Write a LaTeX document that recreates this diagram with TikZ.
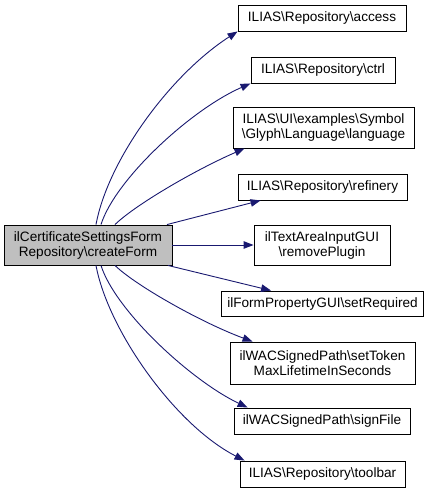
\documentclass[tikz,border=0pt]{standalone}
\usepackage{fontspec}
\setmainfont{Liberation Sans}
\usetikzlibrary{arrows.meta}
\definecolor{edgeblue}{HTML}{191970}
\definecolor{srcfill}{HTML}{BFBFBF}
\tikzset{
  box/.style={draw=black, line width=0.9pt, fill=white, inner sep=0pt, align=center,
    font=\fontsize{13.6}{15}\selectfont, text=black},
  srcbox/.style={box, fill=srcfill},
  edge/.style={draw=edgeblue, line width=0.9pt, -{Triangle[length=10pt,width=7.5pt]}},
}
\begin{document}
\begin{tikzpicture}[x=1pt,y=-1pt]
\useasboundingbox (0,0) rectangle (431,491);
\node[srcbox, minimum width=168, minimum height=40] (src) at (88,245) {ilCertificateSettingsForm\\Repository\textbackslash createForm};
\node[box, minimum width=168, minimum height=26] (t1) at (322,18) {ILIAS\textbackslash Repository\textbackslash access};
\node[box, minimum width=144, minimum height=26] (t2) at (323,70) {ILIAS\textbackslash Repository\textbackslash ctrl};
\node[box, minimum width=181, minimum height=41] (t3) at (323.5,127.5) {ILIAS\textbackslash UI\textbackslash examples\textbackslash Symbol\\\textbackslash Glyph\textbackslash Language\textbackslash language};
\node[box, minimum width=169, minimum height=26] (t4) at (322.5,187) {ILIAS\textbackslash Repository\textbackslash refinery};
\node[box, minimum width=136, minimum height=40] (t5) at (322,245) {ilTextAreaInputGUI\\\textbackslash removePlugin};
\node[box, minimum width=202, minimum height=25] (t6) at (322.5,303.5) {ilFormPropertyGUI\textbackslash setRequired};
\node[box, minimum width=185, minimum height=42] (t7) at (322.5,363) {ilWACSignedPath\textbackslash setToken\\MaxLifetimeInSeconds};
\node[box, minimum width=176, minimum height=26] (t8) at (322,421) {ilWACSignedPath\textbackslash signFile};
\node[box, minimum width=165, minimum height=26] (t9) at (322.5,474) {ILIAS\textbackslash Repository\textbackslash toolbar};

\draw[edge] ([xshift=8pt]src.north) .. controls (108,160) and (170,75) .. (t1.south west);
\draw[edge] ([xshift=13pt]src.north) .. controls (115,180) and (190,110) .. (t2.south west);
\draw[edge] ([xshift=27pt]src.north) .. controls (135,205) and (195,170) .. ([xshift=12pt]t3.south west);
\draw[edge] ([xshift=79pt]src.north) -- ([xshift=23pt]t4.south west);
\draw[edge] (src.east) -- (t5.west);
\draw[edge] ([xshift=80pt]src.south) -- ([xshift=50pt]t6.north west);
\draw[edge] ([xshift=27pt]src.south) .. controls (135,285) and (200,322) .. ([xshift=23pt]t7.north west);
\draw[edge] ([xshift=13pt]src.south) .. controls (115,310) and (190,380) .. ([xshift=14pt]t8.north west);
\draw[edge] ([xshift=8pt]src.south) .. controls (108,330) and (175,425) .. ([xshift=5pt]t9.north west);
\end{tikzpicture}
\end{document}
